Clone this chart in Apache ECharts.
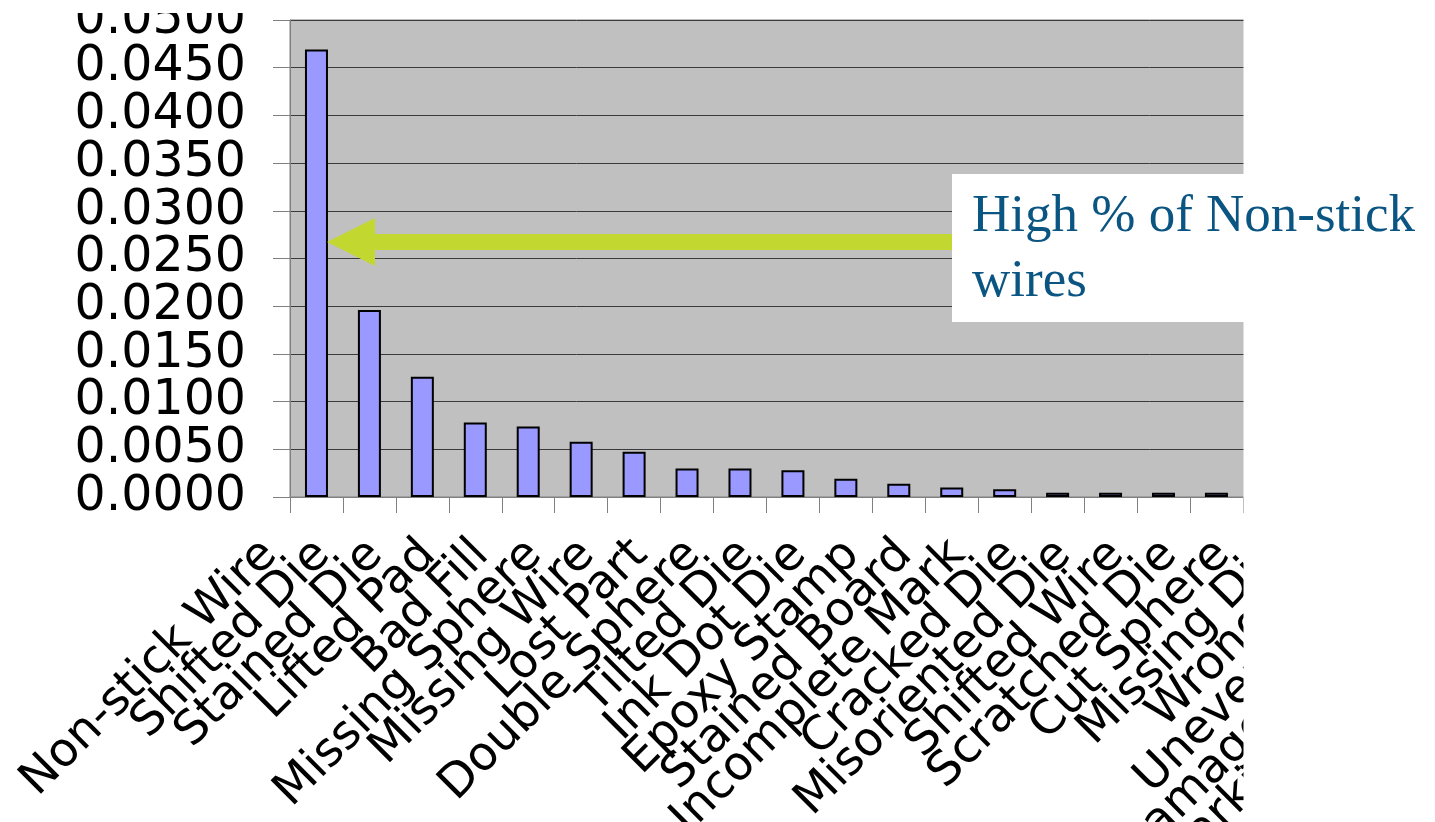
<!DOCTYPE html>
<html>
<head>
<meta charset="utf-8">
<script src="https://cdn.jsdelivr.net/npm/echarts@6/dist/echarts.min.js"></script>
<style>
html,body{margin:0;padding:0;background:#fff;}
#chart{width:1435px;height:822px;}
</style>
</head>
<body>
<div id="chart"></div>
<script>
// Defect categories (the right part of the chart is cropped in the reference)
var categories = ['Non-stick Wire','Shifted Die','Stained Die','Lifted Pad','Bad Fill','Missing Sphere','Missing Wire','Lost Part','Double Sphere','Tilted Die','Ink Dot Die','Epoxy Stamp','Stained Board','Incomplete Mark','Cracked Die','Misoriented Die','Shifted Wire','Scratched Die','Cut Sphere','Missing Die','Wrong Die','Uneven Epoxy','Damaged Package','Marking Misaligned'];
// Defect rate per category
var rates = [0.0469,0.0196,0.0126,0.0078,0.0074,0.0058,0.00475,0.0030,0.0030,0.0028,0.0019,0.0014,0.0010,0.0008,0.00045,0.00045,0.00045,0.00045,0.0003,0.0003,0.0002,0.0002,0.0002,0.0002];
var yTicks = {min:0, max:0.05, step:0.005};
var annotation = ['High % of Non-stick','wires'];

var chart = echarts.init(document.getElementById('chart'), null, {renderer:'canvas'});
var catW = 952.9/18;
function lbl(parity){
  return function(v){ return (Math.round(v/yTicks.step) % 2 === parity) ? v.toFixed(4) : ''; };
}
var yLabelStyle = {margin:44, fontFamily:'DejaVu Sans', fontSize:49, color:'#000', hideOverlap:false};
var option = {
  animation:false,
  grid:{left:290, top:20, width:catW*categories.length, height:477, show:true, backgroundColor:'#C0C0C0', borderColor:'#808080', borderWidth:1, containLabel:false, outerBoundsMode:'none'},
  xAxis:{type:'category', data:categories,
    axisLine:{lineStyle:{color:'#808080', width:1}},
    axisTick:{show:true, length:16, lineStyle:{color:'#808080'}},
    axisLabel:{interval:0, rotate:45, margin:4, padding:[0,66,0,0], fontFamily:'DejaVu Sans', fontSize:47, color:'#000', hideOverlap:false}
  },
  yAxis:[
    {type:'value', position:'left', min:yTicks.min, max:yTicks.max, interval:yTicks.step,
      axisLine:{show:true, lineStyle:{color:'#808080'}},
      axisTick:{show:true, length:17, lineStyle:{color:'#808080'}},
      splitLine:{lineStyle:{color:'#3a3a3a', width:1}},
      axisLabel:Object.assign({showMinLabel:true, showMaxLabel:true, formatter:lbl(0)}, yLabelStyle)
    },
    {type:'value', position:'left', offset:0, min:yTicks.min, max:yTicks.max, interval:yTicks.step,
      axisLine:{show:false}, axisTick:{show:false}, splitLine:{show:false},
      axisLabel:Object.assign({showMinLabel:false, showMaxLabel:false, formatter:lbl(1)}, yLabelStyle)
    }
  ],
  series:[{type:'bar', yAxisIndex:0, data:rates, barWidth:23, itemStyle:{color:'#9999FF', borderColor:'#000', borderWidth:2}}],
  graphic:[
    {type:'rect', z:100, shape:{x:1243.5, y:0, width:200, height:822}, style:{fill:'#fff'}},
    {type:'rect', z:100, shape:{x:0, y:0, width:285, height:13}, style:{fill:'#fff'}},
    {type:'polygon', z:101, shape:{points:[[327,242],[375,218],[375,234],[960,234],[960,250],[375,250],[375,266]]}, style:{fill:'#C2D72F'}},
    {type:'rect', z:102, shape:{x:952, y:174, width:483, height:148}, style:{fill:'#fff'}},
    {type:'text', z:103, x:972, y:217, style:{text:annotation[0], font:'53px "Liberation Serif"', fill:'#0B5583', verticalAlign:'middle'}},
    {type:'text', z:103, x:972, y:282, style:{text:annotation[1], font:'53px "Liberation Serif"', fill:'#0B5583', verticalAlign:'middle'}}
  ]
};
chart.setOption(option);
</script>
</body>
</html>
